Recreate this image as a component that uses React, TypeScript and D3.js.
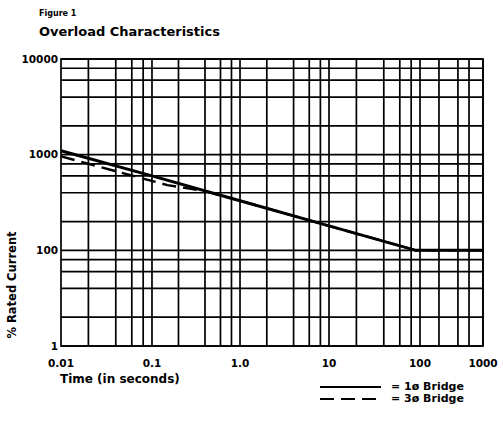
import * as d3 from 'd3';
import React, { useEffect, useRef } from 'react';

// curve data (time in s, % rated current)
const time1ph = [0.01, 0.1, 1, 10, 90, 1000];
const current1ph = [1100, 600, 330, 180, 100, 100];
const time3ph = [0.01, 0.15, 0.4, 1, 10, 90, 1000];
const current3ph = [960, 480, 415, 330, 180, 100, 100];

// axes
const xDecades = [0.01, 0.1, 1, 10, 100, 1000];
const xTickLabels = ['0.01', '0.1', '1.0', '10', '100', '1000'];
const xMinorSteps = [2, 4, 6, 8];
const yTickValues = [10, 100, 1000, 10000];
const yTickLabels = ['1', '100', '1000', '10000'];
const yMinorSteps = [2, 4, 6, 8];

const width = 503;
const height = 421;
const plot = { left: 61, right: 483, top: 59, bottom: 346 };
// the printed decades are not evenly spaced, keep the drawn spacing
const xDecadeStops = [0, 0.2156, 0.4242, 0.6351, 0.8507, 1];
const font = '"DejaVu Sans", sans-serif';

const OverloadChart: React.FC = () => {
  const svgRef = useRef<SVGSVGElement>(null);
  useEffect(() => {
    if (!svgRef.current) return;
    const svg = d3.select(svgRef.current);
    svg.selectAll('*').remove();

    const w = plot.right - plot.left;
    const xScale = d3
      .scaleLog()
      .domain(xDecades)
      .range(xDecadeStops.map((s) => plot.left + s * w));
    const yScale = d3
      .scaleLog()
      .domain([yTickValues[0], yTickValues[yTickValues.length - 1]])
      .range([plot.bottom, plot.top]);

    // minor grid values
    const xGrid: number[] = [];
    xDecades.slice(0, -1).forEach((d, i) => {
      const steps = i === xDecades.length - 2 ? xMinorSteps.slice(0, 3) : xMinorSteps;
      steps.forEach((s) => xGrid.push(d * s));
      xGrid.push(xDecades[i + 1]);
    });
    const yGrid: number[] = [];
    yTickValues.slice(0, -1).forEach((d) => {
      yMinorSteps.forEach((s) => yGrid.push(d * s));
    });

    const grid = svg.append('g').attr('stroke', '#000').attr('stroke-width', 1.7);
    grid
      .selectAll('.vline')
      .data(xGrid)
      .enter()
      .append('line')
      .attr('x1', (d) => xScale(d))
      .attr('x2', (d) => xScale(d))
      .attr('y1', plot.top)
      .attr('y2', plot.bottom);
    grid
      .selectAll('.hline')
      .data(yGrid.concat(yTickValues))
      .enter()
      .append('line')
      .attr('x1', plot.left)
      .attr('x2', plot.right)
      .attr('y1', (d) => yScale(d))
      .attr('y2', (d) => yScale(d));
    grid
      .append('rect')
      .attr('x', plot.left)
      .attr('y', plot.top)
      .attr('width', w)
      .attr('height', plot.bottom - plot.top)
      .attr('fill', 'none');

    const line = d3
      .line<[number, number]>()
      .x((d) => xScale(d[0]))
      .y((d) => yScale(d[1]));
    svg
      .append('path')
      .datum(time3ph.map((t, i) => [t, current3ph[i]] as [number, number]))
      .attr('d', line)
      .attr('fill', 'none')
      .attr('stroke', '#000')
      .attr('stroke-width', 2.4)
      .attr('stroke-dasharray', '14 7');
    svg
      .append('path')
      .datum(time1ph.map((t, i) => [t, current1ph[i]] as [number, number]))
      .attr('d', line)
      .attr('fill', 'none')
      .attr('stroke', '#000')
      .attr('stroke-width', 3);

    const txt = svg
      .append('g')
      .attr('font-family', font)
      .attr('font-weight', 'bold')
      .attr('fill', '#000');
    // x ticks
    txt
      .selectAll('.xt')
      .data(xDecades)
      .enter()
      .append('text')
      .attr('x', (d) => xScale(d))
      .attr('y', 367)
      .attr('text-anchor', 'middle')
      .attr('font-size', 10.5)
      .text((d, i) => xTickLabels[i]);
    // y ticks
    txt
      .selectAll('.yt')
      .data(yTickValues)
      .enter()
      .append('text')
      .attr('x', plot.left - 3)
      .attr('y', (d) => yScale(d))
      .attr('dy', '0.36em')
      .attr('text-anchor', 'end')
      .attr('font-size', 10.5)
      .text((d, i) => yTickLabels[i]);

    txt.append('text').attr('x', 39).attr('y', 16).attr('font-size', 8).text('Figure 1');
    txt
      .append('text')
      .attr('x', 39)
      .attr('y', 36)
      .attr('font-size', 13)
      .text('Overload Characteristics');
    txt
      .append('text')
      .attr('x', 60)
      .attr('y', 383)
      .attr('font-size', 12)
      .text('Time (in seconds)');
    txt
      .append('text')
      .attr('transform', 'translate(16,285) rotate(-90)')
      .attr('text-anchor', 'middle')
      .attr('font-size', 11.5)
      .text('% Rated Current');

    // legend
    const legend = [
      { label: '= 1ø Bridge', dash: null },
      { label: '= 3ø Bridge', dash: '14 7' },
    ];
    legend.forEach((l, i) => {
      const y = 387 + i * 12;
      svg
        .append('line')
        .attr('x1', 320)
        .attr('x2', 381)
        .attr('y1', y)
        .attr('y2', y)
        .attr('stroke', '#000')
        .attr('stroke-width', 2)
        .attr('stroke-dasharray', l.dash);
      txt
        .append('text')
        .attr('x', 391)
        .attr('y', y)
        .attr('dy', '0.3em')
        .attr('font-size', 11)
        .text(l.label);
    });
  }, []);
  return (
    <svg
      ref={svgRef}
      width={width}
      height={height}
      viewBox={`0 0 ${width} ${height}`}
      style={{ position: 'absolute', left: 0, top: 0, background: '#fff' }}
    />
  );
};

export default function App() {
  return <OverloadChart />;
}
